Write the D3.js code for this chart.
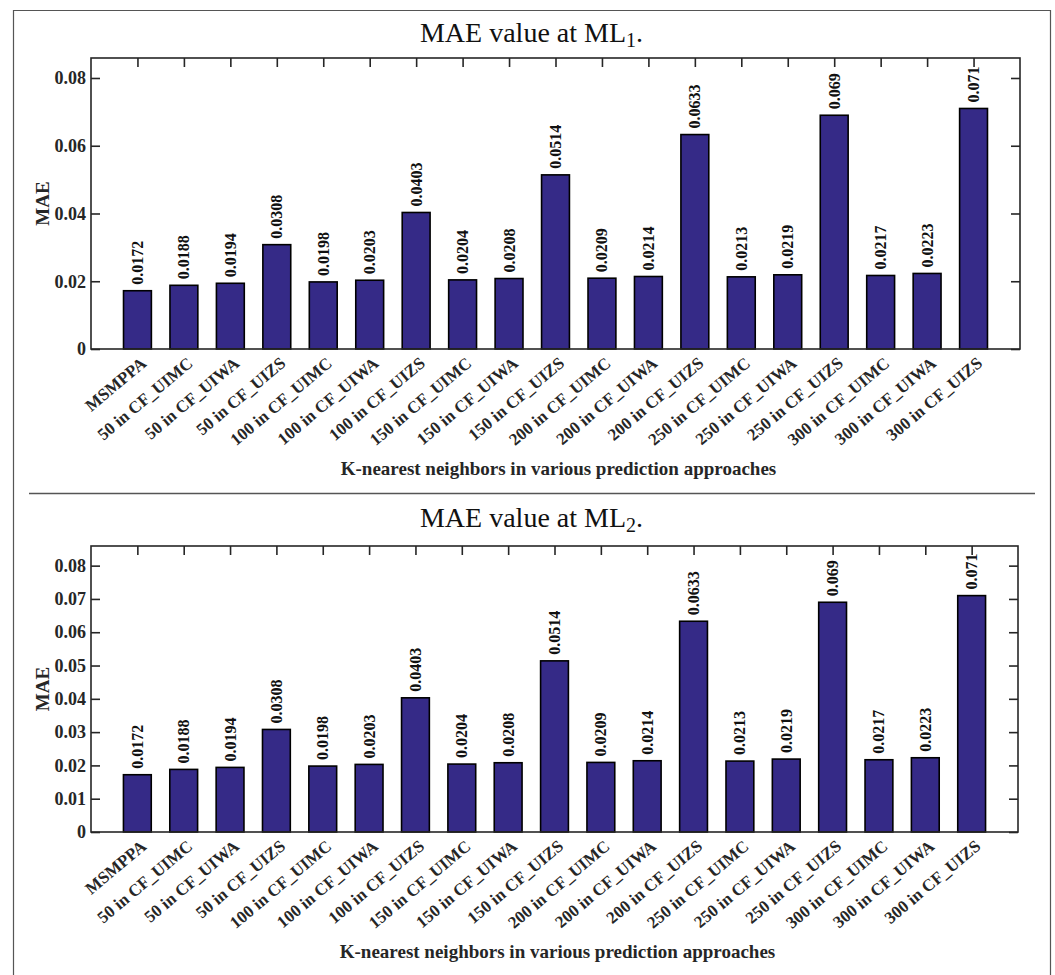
<!DOCTYPE html>
<html>
<head>
<meta charset="utf-8">
<script src="https://cdn.jsdelivr.net/npm/d3@7"></script>
<style>
  html, body { margin: 0; padding: 0; background: #fff; }
  svg { display: block; }
</style>
</head>
<body>
<svg id="chart" width="1055" height="975"></svg>
<script>
// Prediction approaches (K-nearest neighbours variants)
const categories = [
  "MSMPPA",
  "50 in CF_UIMC", "50 in CF_UIWA", "50 in CF_UIZS",
  "100 in CF_UIMC", "100 in CF_UIWA", "100 in CF_UIZS",
  "150 in CF_UIMC", "150 in CF_UIWA", "150 in CF_UIZS",
  "200 in CF_UIMC", "200 in CF_UIWA", "200 in CF_UIZS",
  "250 in CF_UIMC", "250 in CF_UIWA", "250 in CF_UIZS",
  "300 in CF_UIMC", "300 in CF_UIWA", "300 in CF_UIZS"
];

// MAE at ML1
const maeML1 = [0.0172, 0.0188, 0.0194, 0.0308, 0.0198, 0.0203, 0.0403,
  0.0204, 0.0208, 0.0514, 0.0209, 0.0214, 0.0633, 0.0213, 0.0219, 0.069,
  0.0217, 0.0223, 0.071];

// MAE at ML2
const maeML2 = [0.0172, 0.0188, 0.0194, 0.0308, 0.0198, 0.0203, 0.0403,
  0.0204, 0.0208, 0.0514, 0.0209, 0.0214, 0.0633, 0.0213, 0.0219, 0.069,
  0.0217, 0.0223, 0.071];

const ticksML1 = [0, 0.02, 0.04, 0.06, 0.08];
const ticksML2 = [0, 0.01, 0.02, 0.03, 0.04, 0.05, 0.06, 0.07, 0.08];

const titles = ["1", "2"];
const xTitle = "K-nearest neighbors in various prediction approaches";
const yTitle = "MAE";

const svg = d3.select("#chart");
const serif = "'Liberation Serif', 'Times New Roman', serif";
const axisColor = "#262626";
const barColor = "#352a87";

// outer frame (left, top, right)
svg.append("path")
  .attr("d", "M13.5,975 L13.5,10.5 L1050.5,10.5 L1050.5,975")
  .attr("fill", "none").attr("stroke", "#555").attr("stroke-width", 1.2);

// separator between the two panels
svg.append("line")
  .attr("x1", 29).attr("x2", 1035).attr("y1", 493.5).attr("y2", 493.5)
  .attr("stroke", "#555").attr("stroke-width", 1.4);

function panel(opts) {
  const { values, ticks, sub, left, right, top, bottom, titleY, tickFmt } = opts;
  const g = svg.append("g");

  const x = d3.scaleLinear().domain([0, categories.length + 1]).range([left, right]);
  const y = d3.scaleLinear().domain([0, 0.0859]).range([bottom, top]);
  const bw = x(0.6) - x(0);

  // title with subscript
  const t = g.append("text")
    .attr("x", 531.5).attr("y", titleY)
    .attr("text-anchor", "middle")
    .attr("font-family", serif)
    .attr("font-size", 28)
    .attr("fill", "#111");
  t.append("tspan").text("MAE value at ML");
  t.append("tspan").text(sub).attr("font-size", 20).attr("dy", 5);
  t.append("tspan").text(".").attr("dy", -5);

  // bars
  g.selectAll("rect.bar").data(values).join("rect")
    .attr("class", "bar")
    .attr("x", (d, i) => x(i + 1) - bw / 2)
    .attr("width", bw)
    .attr("y", d => y(d))
    .attr("height", d => y(0) - y(d))
    .attr("fill", barColor)
    .attr("stroke", "#000")
    .attr("stroke-width", 1.6);

  const centers = d3.range(1, categories.length + 1);
  const tickLen = 9;

  // left axis
  const ax = g.append("g").attr("transform", `translate(${left},0)`)
    .call(d3.axisLeft(y).tickValues(ticks).tickSize(-tickLen).tickSizeOuter(0)
      .tickPadding(5).tickFormat(tickFmt));
  // right axis (ticks only)
  const ar = g.append("g").attr("transform", `translate(${right},0)`)
    .call(d3.axisRight(y).tickValues(ticks).tickSize(-tickLen).tickSizeOuter(0).tickFormat(""));
  // top axis (ticks only)
  const at = g.append("g").attr("transform", `translate(0,${top})`)
    .call(d3.axisTop(x).tickValues(centers).tickSize(-tickLen).tickSizeOuter(0).tickFormat(""));

  [ax, ar, at].forEach(a => {
    a.select(".domain").remove();
    a.selectAll(".tick line").attr("stroke", axisColor).attr("stroke-width", 1.6);
  });
  ax.selectAll(".tick text")
    .attr("font-family", serif).attr("font-weight", "bold")
    .attr("font-size", 18).attr("fill", axisColor);

  // axes box
  g.append("rect")
    .attr("x", left).attr("y", top)
    .attr("width", right - left).attr("height", bottom - top)
    .attr("fill", "none").attr("stroke", axisColor).attr("stroke-width", 1.6);

  // category labels, rotated
  g.append("g").selectAll("text").data(categories).join("text")
    .attr("transform", (d, i) => `translate(${x(i + 1) + 10},${bottom + 16}) rotate(-40)`)
    .attr("text-anchor", "end")
    .attr("font-family", serif).attr("font-weight", "bold")
    .attr("font-size", 17).attr("fill", axisColor)
    .text(d => d);

  // value labels above bars
  g.append("g").selectAll("text").data(values).join("text")
    .attr("transform", (d, i) => `translate(${x(i + 1) + 5.5},${y(d) - 6}) rotate(-90)`)
    .attr("text-anchor", "start")
    .attr("font-family", serif).attr("font-weight", "bold")
    .attr("font-size", 16).attr("fill", "#111")
    .text(d => String(d));

  // axis titles
  g.append("text")
    .attr("x", (left + right) / 2 + 3).attr("y", bottom + 126)
    .attr("text-anchor", "middle")
    .attr("font-family", serif).attr("font-weight", "bold")
    .attr("font-size", 19).attr("fill", axisColor)
    .text(xTitle);

  g.append("text")
    .attr("transform", `translate(49,${(top + bottom) / 2}) rotate(-90)`)
    .attr("text-anchor", "middle")
    .attr("font-family", serif).attr("font-weight", "bold")
    .attr("font-size", 19).attr("fill", axisColor)
    .text(yTitle);
}

const fmt = d => d === 0 ? "0" : d3.format(".2f")(d);

panel({ values: maeML1, ticks: ticksML1, sub: titles[0],
  left: 91, right: 1020, top: 58, bottom: 349, titleY: 42, tickFmt: fmt });
panel({ values: maeML2, ticks: ticksML2, sub: titles[1],
  left: 91, right: 1018, top: 546, bottom: 832, titleY: 527, tickFmt: fmt });
</script>
</body>
</html>
